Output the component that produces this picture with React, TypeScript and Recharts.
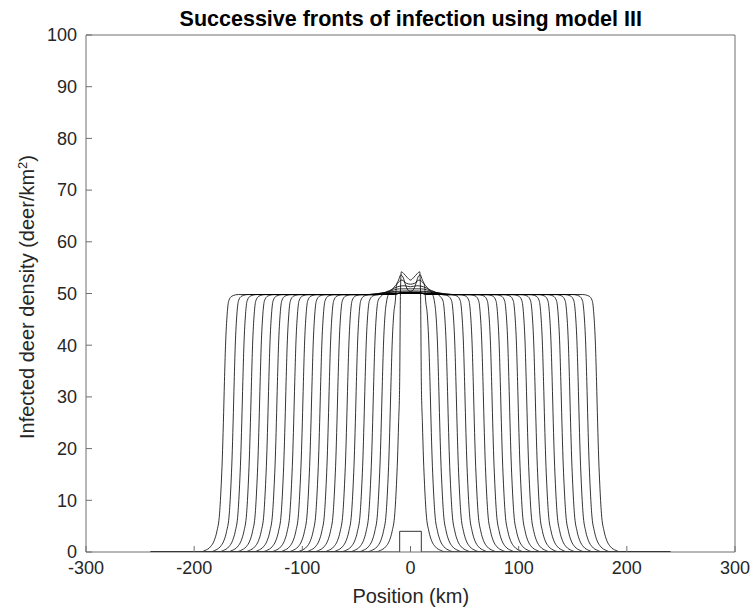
import { Line, LineChart, XAxis, YAxis } from "recharts";

// Half-height position (km) of the right-hand front at each saved time step;
// every profile is symmetric about the origin.
const FRONT_POSITIONS = [11, 19, 27, 35, 43, 51, 59, 68, 76, 84, 92, 100, 108, 116, 124, 132, 140, 148, 156, 164, 173];

// Shape of a travelling front: outward offset from the half-height point (km)
// and the infected density there.
const EDGE_OFFSETS = [-14, -8, -5, -3.5, -2, -1, 0, 1, 2, 3.5, 6, 8.5, 12, 17, 22];
const EDGE_VALUES = [49.8, 49.5, 48.6, 46, 40, 33, 25, 18, 13, 7.5, 4, 2.2, 1, 0.3, 0];

// Crest around the origin, [x, density] for x >= 0, for the early fronts.
const CREST_1 = [[0, 52.6], [3, 53.1], [6, 53.8], [8.5, 54.2], [9.3, 50]];
const CREST_2 = [[0, 50.4], [2.5, 50.7], [4.5, 51.6], [7, 53.2], [9, 53.6], [11, 52.6], [13, 51.5]];
const CREST_3 = [[0, 51.8], [4, 52], [8, 52.6], [12, 52], [16, 51], [20, 50]];
const CREST_4 = [[0, 51.3], [6, 51.5], [12, 51.3], [18, 50.7], [24, 50.1]];
const CREST_5 = [[0, 50.9], [10, 50.9], [20, 50.4], [29, 49.9]];
const CREST_6 = [[0, 50.5], [15, 50.4], [30, 50], [38, 49.8]];
const CREST_7 = [[0, 50.3], [20, 50.2], [40, 49.8]];
const CREST_LATE = [[0, 50.1], [30, 49.8]];
const CRESTS = [CREST_1, CREST_2, CREST_3, CREST_4, CREST_5, CREST_6, CREST_7];

// Initial condition: a small infected patch at the origin.
const DOMAIN_EDGE = 240;
const INITIAL_X = [-DOMAIN_EDGE, -10, -10, 10, 10, DOMAIN_EDGE];
const INITIAL_Y = [0, 0, 4, 4, 0, 0];

const X_TICKS = [-300, -200, -100, 0, 100, 200, 300];
const Y_TICKS = [0, 10, 20, 30, 40, 50, 60, 70, 80, 90, 100];

type Pt = { x: number; y: number };

function buildProfile(front: number, crest: number[][]): Pt[] {
  const lastX = crest[crest.length - 1][0];
  const edge = EDGE_OFFSETS.map((d, i) => ({ x: front + d, y: EDGE_VALUES[i] })).filter((p) => p.x > lastX);
  const right: Pt[] = [...crest.map(([x, y]) => ({ x, y })), ...edge, { x: DOMAIN_EDGE, y: 0 }];
  const left = right
    .filter((p) => p.x > 0)
    .map((p) => ({ x: -p.x, y: p.y }))
    .reverse();
  return [...left, ...right];
}

const initialData: Pt[] = INITIAL_X.map((x, i) => ({ x, y: INITIAL_Y[i] }));
const profiles = FRONT_POSITIONS.map((f, i) => buildProfile(f, CRESTS[i] ?? CREST_LATE));

const FONT = "'Liberation Sans', Arial, Helvetica, sans-serif";
const AXIS_COLOR = "#6e6e6e";
const TICK_STYLE = { fill: "#262626", fontSize: 18, fontFamily: FONT };

export default function App() {
  return (
    <div style={{ position: "absolute", left: 0, top: 0, background: "#fff" }}>
      <LineChart width={754} height={611} margin={{ top: 34, right: 18, bottom: 29, left: 26 }}>
        <XAxis
          xAxisId="bottom"
          dataKey="x"
          type="number"
          domain={[-300, 300]}
          ticks={X_TICKS}
          allowDataOverflow
          height={30}
          tickSize={-6}
          tickMargin={15}
          tick={TICK_STYLE}
          axisLine={{ stroke: AXIS_COLOR }}
          tickLine={{ stroke: AXIS_COLOR }}
        />
        {/* top and right axes only close the box and carry inward ticks */}
        <XAxis
          xAxisId="top"
          orientation="top"
          dataKey="x"
          type="number"
          domain={[-300, 300]}
          ticks={X_TICKS}
          height={1}
          tickSize={-6}
          tickFormatter={() => ""}
          axisLine={{ stroke: AXIS_COLOR }}
          tickLine={{ stroke: AXIS_COLOR }}
        />
        <YAxis
          yAxisId="left"
          type="number"
          domain={[0, 100]}
          ticks={Y_TICKS}
          allowDataOverflow
          width={60}
          tickSize={-6}
          tickMargin={15}
          tick={TICK_STYLE}
          axisLine={{ stroke: AXIS_COLOR }}
          tickLine={{ stroke: AXIS_COLOR }}
        />
        <YAxis
          yAxisId="right"
          orientation="right"
          type="number"
          domain={[0, 100]}
          ticks={Y_TICKS}
          width={1}
          tickSize={-6}
          tickFormatter={() => ""}
          axisLine={{ stroke: AXIS_COLOR }}
          tickLine={{ stroke: AXIS_COLOR }}
        />
        <Line
          xAxisId="bottom"
          yAxisId="left"
          data={initialData}
          dataKey="y"
          type="linear"
          stroke="#000"
          strokeWidth={0.8}
          dot={false}
          activeDot={false}
          isAnimationActive={false}
        />
        {profiles.map((data, i) => (
          <Line
            key={i}
            xAxisId="bottom"
            yAxisId="left"
            data={data}
            dataKey="y"
            type="monotone"
            stroke="#000"
            strokeWidth={0.8}
            dot={false}
            activeDot={false}
            isAnimationActive={false}
          />
        ))}
        <text x={410.75} y={26} textAnchor="middle" fontFamily={FONT} fontWeight="bold" fontSize={21.5} fill="#000">
          Successive fronts of infection using model III
        </text>
        <text x={410.75} y={603} textAnchor="middle" fontFamily={FONT} fontSize={20} fill="#262626">
          Position (km)
        </text>
        <text
          x={34}
          y={297}
          transform="rotate(-90, 34, 297)"
          textAnchor="middle"
          fontFamily={FONT}
          fontSize={20}
          fill="#262626"
        >
          Infected deer density (deer/km
          <tspan dy={-7} fontSize={13}>
            2
          </tspan>
          <tspan dy={7}>)</tspan>
        </text>
      </LineChart>
    </div>
  );
}
